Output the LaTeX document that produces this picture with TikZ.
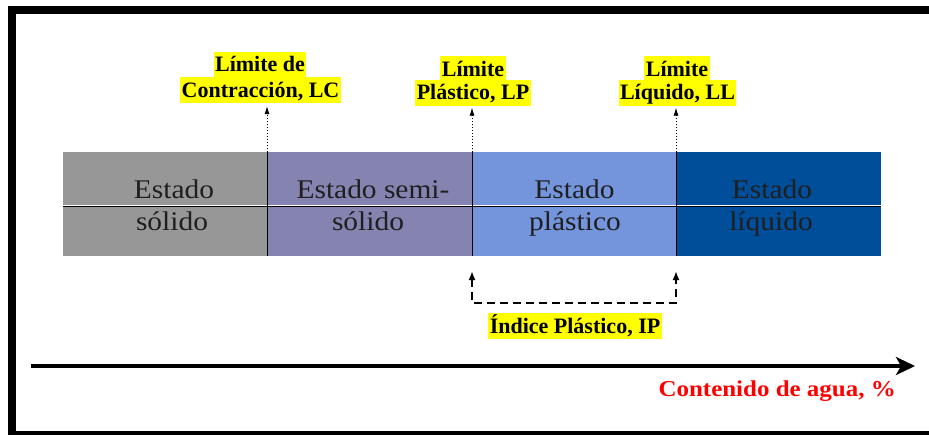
\documentclass[tikz,border=0pt]{standalone}
\usepackage{fontspec}
\setmainfont{Liberation Serif}
\newfontfamily\barfont[FakeStretch=1.09]{Liberation Serif}
\newfontfamily\redfont[FakeStretch=1.1]{Liberation Serif}
\usetikzlibrary{arrows.meta}
\definecolor{segA}{HTML}{979797}
\definecolor{segB}{HTML}{8583B0}
\definecolor{segC}{HTML}{7494DB}
\definecolor{segD}{HTML}{004D99}
\definecolor{hlyellow}{HTML}{FFFF00}
\definecolor{axisred}{HTML}{FF0000}
\begin{document}
\begin{tikzpicture}[x=1pt,y=-1pt,
  seg/.style={draw=none, minimum height=104pt, inner sep=0pt, outer sep=0pt},
  bartext/.style={font=\barfont\fontsize{27}{32}\selectfont, text=black!88, anchor=base, inner sep=0pt},
  hl/.style={fill=hlyellow, font=\bfseries\fontsize{22}{27}\selectfont, text height=20pt, text depth=6pt, inner xsep=1.5pt, inner ysep=0pt, anchor=base},
  sepline/.style={black, line width=1pt},
  limarrow/.style={black, line width=0.8pt, dash pattern=on 1.5pt off 1.5pt, -{Latex[length=8pt,width=5pt]}},
  bracket/.style={black, line width=2pt, dash pattern=on 8pt off 5pt, {Latex[length=9pt,width=7pt]}-{Latex[length=9pt,width=7pt]}},
  axis/.style={black, line width=3.5pt, -{Stealth[length=19pt,width=18pt,inset=5pt]}},
  redlbl/.style={font=\redfont\bfseries\fontsize{22.7}{27}\selectfont, text=axisred, anchor=base east, inner sep=0pt}
]
\useasboundingbox (0,0) rectangle (929,434);
\clip (0,0) rectangle (929,434);
\fill[white] (0,0) rectangle (929,434);

% frame
\draw[line width=8pt] (12,9.5) rectangle (950,435);

% bar segments
\node[seg, fill=segA, minimum width=204pt] (s1) at (165,204) {};
\node[seg, fill=segB, minimum width=205pt] (s2) at (369.5,204) {};
\node[seg, fill=segC, minimum width=204pt] (s3) at (574,204) {};
\node[seg, fill=segD, minimum width=205pt] (s4) at (778.5,204) {};

% horizontal divider
\draw[white, line width=1pt] ([yshift=-1pt]s1.west) -- ([yshift=-1pt]s4.east);
\draw[black, line width=1.2pt] ([yshift=-2.4pt]s1.west) -- ([yshift=-2.4pt]s4.east);

% vertical dividers
\draw[sepline] (s1.north east) -- (s1.south east);
\draw[sepline] (s2.north east) -- (s2.south east);
\draw[sepline] (s3.north east) -- (s3.south east);

% bar texts
\node[bartext] (t1a) at (174,198) {Estado};
\node[bartext] (t1b) at (172,230) {sólido};
\node[bartext] (t2a) at (373,198) {Estado semi-};
\node[bartext] (t2b) at (368,230) {sólido};
\node[bartext] (t3a) at (574.5,198) {Estado};
\node[bartext] (t3b) at (575,230) {plástico};
\node[bartext] (t4a) at (772,198) {Estado};
\node[bartext] (t4b) at (771,230) {líquido};

% limit labels
\node[hl] (lc1) at (260,71.5) {Límite de};
\node[hl] (lc2) at (260.5,97) {Contracción, LC};
\node[hl] (lp1) at (473,76) {Límite};
\node[hl] (lp2) at (473,99.5) {Plástico, LP};
\node[hl] (ll1) at (677,76) {Límite};
\node[hl] (ll2) at (677.5,99.5) {Líquido, LL};

% dotted arrows
\draw[limarrow, shorten >=3pt] (s1.north east) -- (s1.north east |- lc2.south);
\draw[limarrow, shorten >=2pt] (s2.north east) -- (s2.north east |- lp2.south);
\draw[limarrow, shorten >=2pt] (s3.north east) -- (s3.north east |- ll2.south);

% plastic index bracket
\coordinate (pL) at ([yshift=-15pt]s3.south west);
\coordinate (pR) at ([yshift=-15pt]s3.south east);
\coordinate (qL) at ([yshift=-47pt]s3.south west);
\coordinate (qR) at ([yshift=-47pt]s3.south east);
\draw[bracket] (pL) -- (qL) -- (qR) -- (pR);
\node[hl] (ip) at (575,333) {Índice Plástico, IP};

% water content axis
\coordinate (a0) at (31,366);
\coordinate (a1) at (915,366);
\draw[axis] (a0) -- (a1);
\node[redlbl] (wc) at (896,396) {Contenido de agua, \%};
\end{tikzpicture}
\end{document}
